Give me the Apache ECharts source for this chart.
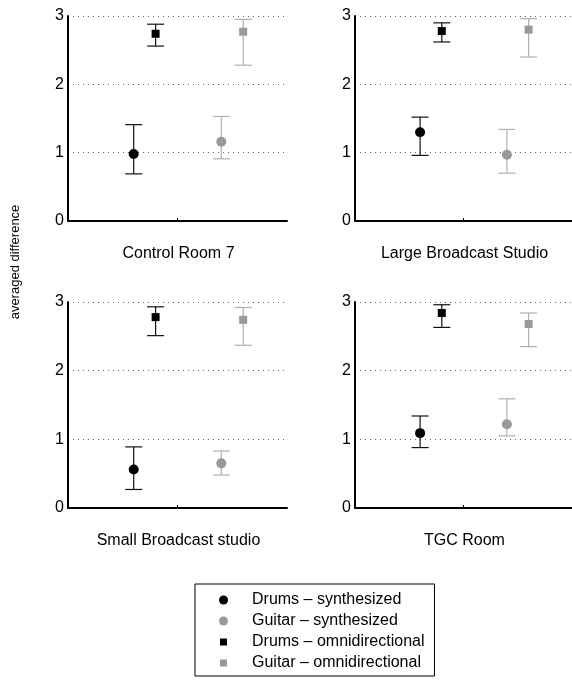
<!DOCTYPE html>
<html>
<head>
<meta charset="utf-8">
<script src="https://cdn.jsdelivr.net/npm/echarts@6/dist/echarts.min.js"></script>
<style>
  html, body { margin: 0; padding: 0; background: #fff; }
  #chart { width: 572px; height: 682px; }
</style>
</head>
<body>
<div id="chart"></div>
<script>
// panels (one per room)
var rooms = ['Control Room 7', 'Large Broadcast Studio', 'Small Broadcast studio', 'TGC Room'];
var seriesNames = ['Drums \u2013 synthesized', 'Guitar \u2013 synthesized', 'Drums \u2013 omnidirectional', 'Guitar \u2013 omnidirectional'];
// horizontal slot of each series inside a panel (0..1)
var seriesX = [0.3, 0.7, 0.4, 0.8];

// mean / lower / upper, one value per room
var drumsSynthMean = [0.98, 1.30, 0.56, 1.09];
var drumsSynthLow  = [0.69, 0.96, 0.27, 0.88];
var drumsSynthHigh = [1.41, 1.52, 0.89, 1.34];

var guitarSynthMean = [1.16, 0.97, 0.65, 1.22];
var guitarSynthLow  = [0.91, 0.70, 0.48, 1.05];
var guitarSynthHigh = [1.53, 1.34, 0.83, 1.59];

var drumsOmniMean = [2.74, 2.78, 2.78, 2.84];
var drumsOmniLow  = [2.56, 2.62, 2.51, 2.63];
var drumsOmniHigh = [2.88, 2.90, 2.93, 2.96];

var guitarOmniMean = [2.77, 2.80, 2.74, 2.68];
var guitarOmniLow  = [2.28, 2.40, 2.37, 2.35];
var guitarOmniHigh = [2.95, 2.96, 2.92, 2.84];

var means = [drumsSynthMean, guitarSynthMean, drumsOmniMean, guitarOmniMean];
var lows  = [drumsSynthLow, guitarSynthLow, drumsOmniLow, guitarOmniLow];
var highs = [drumsSynthHigh, guitarSynthHigh, drumsOmniHigh, guitarOmniHigh];

var markerColor = ['#000', '#999', '#000', '#999'];
var barColor = ['#111', '#b0b0b0', '#111', '#b0b0b0'];
var symbols = ['circle', 'circle', 'rect', 'rect'];
var symbolSizes = [10, 10, 8, 8];

var gridBoxes = [
    {left: 68, top: 16, width: 219, height: 205},
    {left: 355, top: 16, width: 217, height: 205},
    {left: 68, top: 302, width: 219, height: 206},
    {left: 355, top: 302, width: 217, height: 206}
];

var grids = [], xAxes = [], yAxes = [], titles = [], series = [];

function errorBar(params, api) {
    var x = api.value(0);
    var lo = api.coord([x, api.value(1)]);
    var hi = api.coord([x, api.value(2)]);
    var w = 8.5;
    var style = {stroke: api.visual('color'), lineWidth: 1.2};
    return {
        type: 'group',
        children: [
            {type: 'line', shape: {x1: lo[0], y1: lo[1], x2: hi[0], y2: hi[1]}, style: style},
            {type: 'line', shape: {x1: lo[0] - w, y1: lo[1], x2: lo[0] + w, y2: lo[1]}, style: style},
            {type: 'line', shape: {x1: hi[0] - w, y1: hi[1], x2: hi[0] + w, y2: hi[1]}, style: style}
        ]
    };
}

for (var i = 0; i < rooms.length; i++) {
    var g = gridBoxes[i];
    grids.push({left: g.left, top: g.top, width: g.width, height: g.height});
    xAxes.push({
        type: 'value', gridIndex: i, min: 0, max: 1,
        axisLine: {lineStyle: {color: '#000', width: 2}},
        axisTick: {show: true, inside: true, length: 3, customValues: [0.5], lineStyle: {color: '#000'}},
        axisLabel: {show: false},
        splitLine: {show: false}
    });
    yAxes.push({
        type: 'value', gridIndex: i, min: 0, max: 3, interval: 1,
        axisLine: {show: true, lineStyle: {color: '#000', width: 2}},
        axisTick: {show: false},
        axisLabel: {color: '#000', fontSize: 16, margin: 4, fontFamily: 'Liberation Sans'},
        splitLine: {show: true, lineStyle: {type: [1, 4], color: '#666', width: 1}}
    });
    titles.push({
        text: rooms[i],
        left: g.left + g.width / 2 + 1,
        top: g.top + g.height + 25,
        textAlign: 'center',
        padding: 0,
        textStyle: {fontSize: 16, fontWeight: 'normal', color: '#000', fontFamily: 'Liberation Sans'}
    });
    for (var s = 0; s < seriesNames.length; s++) {
        series.push({
            type: 'custom',
            xAxisIndex: i, yAxisIndex: i,
            renderItem: errorBar,
            itemStyle: {color: barColor[s]},
            encode: {x: 0, y: [1, 2]},
            data: [[seriesX[s], lows[s][i], highs[s][i]]],
            z: 2, silent: true
        });
        series.push({
            type: 'scatter',
            name: seriesNames[s],
            xAxisIndex: i, yAxisIndex: i,
            symbol: symbols[s],
            symbolSize: symbolSizes[s],
            itemStyle: {color: markerColor[s], opacity: 1},
            data: [[seriesX[s], means[s][i]]],
            z: 3, silent: true
        });
    }
}

var chart = echarts.init(document.getElementById('chart'));
chart.setOption({
    animation: false,
    backgroundColor: '#fff',
    title: titles,
    grid: grids,
    xAxis: xAxes,
    yAxis: yAxes,
    legend: {
        orient: 'vertical',
        left: 195, top: 584, height: 100,
        itemWidth: 9, itemHeight: 9, itemGap: 5,
        padding: [8, 10, 5, 23],
        borderColor: '#000', borderWidth: 1,
        selectedMode: false,
        textStyle: {fontSize: 16, lineHeight: 16, color: '#000', fontFamily: 'Liberation Sans', padding: [0, 0, 0, 19]},
        data: seriesNames.map(function (n, k) {
            var st = {color: markerColor[k]};
            if (symbols[k] === 'rect') { st.borderColor = '#fff'; st.borderWidth = 2; }
            return {name: n, icon: symbols[k], itemStyle: st};
        })
    },
    graphic: [{
        type: 'text',
        x: 15, y: 262,
        rotation: Math.PI / 2,
        style: {
            text: 'averaged difference', fill: '#000', fontSize: 13,
            fontFamily: 'Liberation Sans', align: 'center', verticalAlign: 'middle'
        }
    }],
    series: series
});
</script>
</body>
</html>
